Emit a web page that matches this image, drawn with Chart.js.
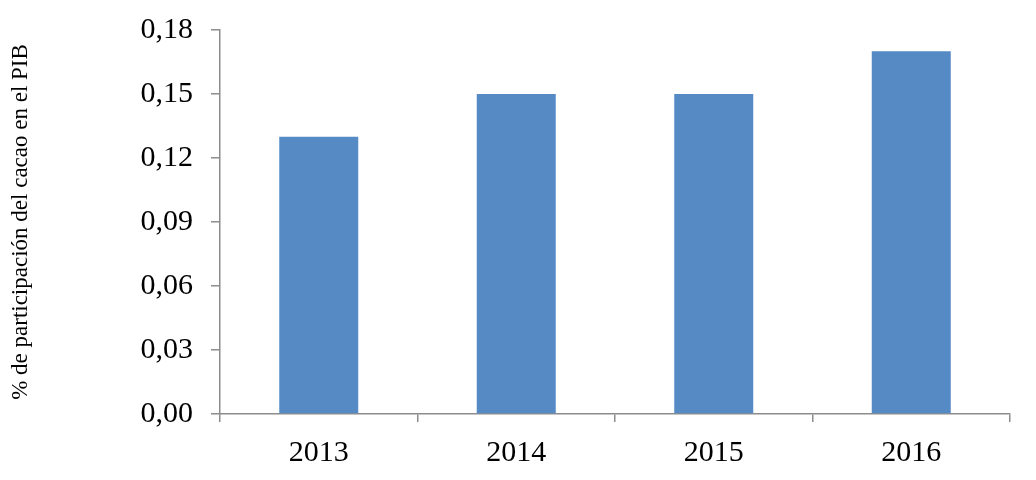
<!DOCTYPE html>
<html>
<head>
<meta charset="utf-8">
<script src="https://cdn.jsdelivr.net/npm/chart.js@4/dist/chart.umd.min.js"></script>
<style>
  body { margin: 0; background: #fff; }
  #wrap { width: 1036px; height: 480px; }
</style>
</head>
<body>
<div id="wrap"><canvas id="myChart" width="1036" height="480"></canvas></div>
<script>
// data
var years = ["2013", "2014", "2015", "2016"];
var share = [0.13, 0.15, 0.15, 0.17];
var yTicks = [0, 0.03, 0.06, 0.09, 0.12, 0.15, 0.18];
var yTitle = "% de participación del cacao en el PIB";

var axisGray = "#8c8c8c";
var serif = "'Liberation Serif', 'Times New Roman', serif";

new Chart("myChart", {
  type: "bar",
  data: {
    labels: years,
    datasets: [{
      data: share,
      backgroundColor: "#558ac5",
      barPercentage: 0.4,
      categoryPercentage: 1
    }]
  },
  options: {
    responsive: false,
    animation: false,
    layout: { padding: { top: 30, right: 26, bottom: 0, left: 0 } },
    plugins: { legend: { display: false }, tooltip: { enabled: false } },
    scales: {
      x: {
        grid: { drawOnChartArea: false, drawTicks: true, tickLength: 8, color: axisGray, lineWidth: 1.5 },
        border: { color: axisGray, width: 1.5 },
        ticks: { color: "#000", font: { family: serif, size: 30 }, padding: 13 },
        afterFit: function (s) { s.height = 66; s.paddingLeft = 0; s.paddingRight = 0; }
      },
      y: {
        min: 0,
        max: 0.18,
        grid: { drawOnChartArea: false, drawTicks: true, tickLength: 9, color: axisGray, lineWidth: 1.5 },
        border: { color: axisGray, width: 1.5 },
        afterBuildTicks: function (s) { s.ticks = yTicks.map(function (v) { return { value: v }; }); },
        ticks: {
          color: "#000",
          font: { family: serif, size: 30 },
          padding: 18,
          callback: function (v) { return Number(v).toFixed(2).replace(".", ","); }
        },
        title: {
          display: true,
          text: yTitle,
          color: "#000",
          font: { family: serif, size: 23 },
          padding: { top: 7, bottom: 0 }
        },
        afterFit: function (s) { s.width = 220; s.paddingTop = 0; s.paddingBottom = 0; }
      }
    }
  }
});
</script>
</body>
</html>
